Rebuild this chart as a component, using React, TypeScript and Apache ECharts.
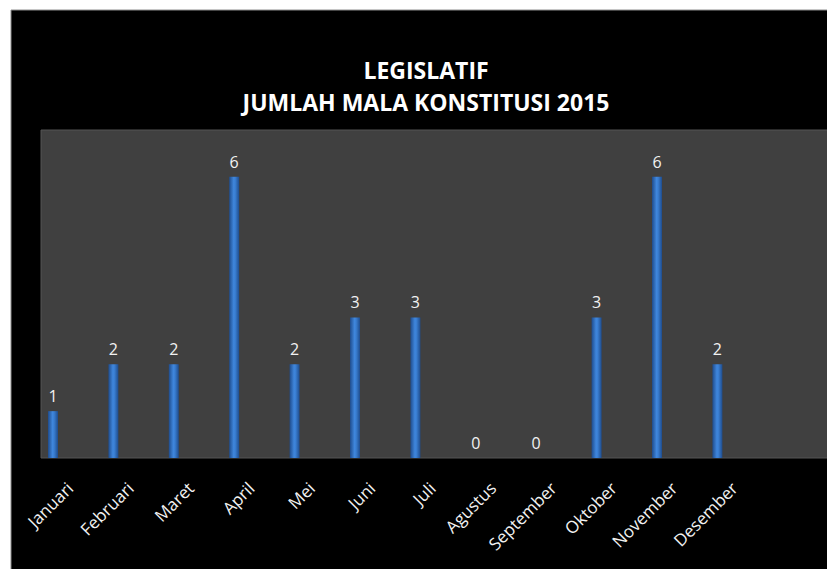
import React, { useEffect, useRef } from "react";
import * as echarts from "echarts";

const months = [
  "Januari", "Februari", "Maret", "April", "Mei", "Juni",
  "Juli", "Agustus", "September", "Oktober", "November", "Desember",
];
const values = [1, 2, 2, 6, 2, 3, 3, 0, 0, 3, 6, 2];
const titleLines = ["LEGISLATIF", "JUMLAH MALA KONSTITUSI 2015"];
const yMax = 7;

const FONT = "'Open Sans', sans-serif";

export default function App() {
  const ref = useRef<HTMLDivElement>(null);
  useEffect(() => {
    if (!ref.current) return;
    const chart = echarts.init(ref.current, null, { renderer: "svg" });
    const gridLeft = 22.8;
    const gridWidth = 724.8;
    const gridTop = 130;
    const gridHeight = 328;
    const labelShift = 17;
    chart.setOption({
      animation: false,
      backgroundColor: "#ffffff",
      graphic: [
        {
          type: "rect",
          z: 0,
          shape: { x: 11, y: 10, width: 820, height: 565 },
          style: { fill: "#000000", stroke: "#8c8c8c", lineWidth: 1 },
        },
        {
          type: "rect",
          z: 0,
          shape: { x: 41, y: 130, width: 790, height: 328 },
          style: { fill: "#404040", stroke: "#555555", lineWidth: 1 },
        },
        {
          type: "text",
          z: 5,
          x: 426,
          y: 69.5,
          style: {
            text: titleLines[0],
            fill: "#ffffff",
            font: `bold 23px ${FONT}`,
            textAlign: "center",
            textVerticalAlign: "middle",
          },
        },
        {
          type: "text",
          z: 5,
          x: 426,
          y: 102,
          style: {
            text: titleLines[1],
            fill: "#ffffff",
            font: `bold 23px ${FONT}`,
            textAlign: "center",
            textVerticalAlign: "middle",
          },
        },
      ],
      grid: [
        { left: gridLeft, top: gridTop, width: gridWidth, height: gridHeight },
        { left: gridLeft + labelShift, top: gridTop, width: gridWidth, height: gridHeight },
      ],
      xAxis: [
        {
          type: "category",
          gridIndex: 0,
          data: months,
          axisLine: { show: false },
          axisTick: { show: false },
          axisLabel: { show: false },
        },
        {
          type: "category",
          gridIndex: 1,
          data: months,
          axisLine: { show: false },
          axisTick: { show: false },
          axisLabel: {
            interval: 0,
            rotate: 45,
            margin: 27,
            color: "#f2f2f2",
            fontSize: 17,
            fontFamily: FONT,
          },
        },
      ],
      yAxis: [
        { type: "value", gridIndex: 0, min: 0, max: yMax, show: false },
        { type: "value", gridIndex: 1, min: 0, max: yMax, show: false },
      ],
      series: [
        {
          type: "bar",
          xAxisIndex: 0,
          yAxisIndex: 0,
          data: values,
          barWidth: 10,
          z: 3,
          itemStyle: {
            color: new echarts.graphic.LinearGradient(0, 0, 1, 0, [
              { offset: 0, color: "#1f4c8c" },
              { offset: 0.45, color: "#3f86dc" },
              { offset: 0.6, color: "#3a7fd3" },
              { offset: 1, color: "#1f4c8c" },
            ]),
          },
          label: {
            show: true,
            position: "top",
            distance: 7,
            color: "#f2f2f2",
            fontSize: 16,
            fontFamily: FONT,
          },
        },
      ],
    });
    return () => chart.dispose();
  }, []);
  return (
    <div
      ref={ref}
      style={{ position: "absolute", left: 0, top: 0, width: 827, height: 569 }}
    />
  );
}
